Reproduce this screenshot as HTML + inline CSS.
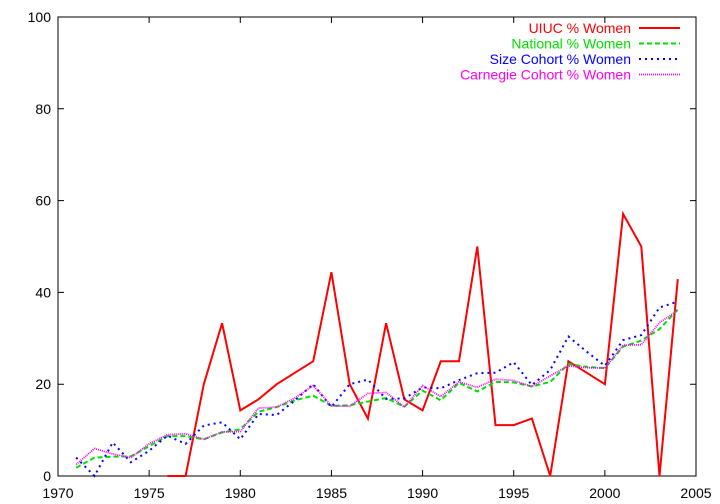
<!DOCTYPE html>
<html><head><meta charset="utf-8"><style>
body{margin:0;background:#fff}
svg{display:block;font-family:"Liberation Sans",sans-serif;font-size:14px}
</style></head><body>
<svg id="chart" width="720" height="504" xmlns="http://www.w3.org/2000/svg"></svg>
<script>
const years=[1971,1972,1973,1974,1975,1976,1977,1978,1979,1980,1981,1982,1983,1984,1985,1986,1987,1988,1989,1990,1991,1992,1993,1994,1995,1996,1997,1998,1999,2000,2001,2002,2003,2004];
const uiucYears=[1976,1977,1978,1979,1980,1981,1982,1983,1984,1985,1986,1987,1988,1989,1990,1991,1992,1993,1994,1995,1996,1997,1998,1999,2000,2001,2002,2003,2004];
const uiuc=[0,0,20,33.3,14.3,16.7,20,22.5,25,44.4,20,12.5,33.3,16.7,14.3,25,25,50,11.1,11.1,12.5,0,25,22.5,20,57.1,50,0,42.9];
const national=[1.8,4,4.2,4.3,6.5,8.7,8.7,8,9.5,10.2,14,15,16.5,17.5,15.3,15.4,16.2,17,15.1,18.6,16.5,20.3,18.4,20.5,20.4,19.5,20.5,24.4,23.8,23.5,28.2,29.5,32,36.3];
const sizeCohort=[4,0,7.3,3,5.5,8.8,7,11,11.7,8,13.5,13.3,16.5,20,15,20,21,16.8,16.9,19.3,19.1,20.9,22.4,22.5,24.8,19.8,23.1,30.4,27.1,24,29.6,30.7,36.7,38];
const carnegie=[2.5,6,4.8,4,7,9,9.2,8,9.6,9.7,14.8,15,17,19.7,15.3,15.2,18,18.2,15,19.7,17.3,20.5,19.3,21.1,20.8,19.5,21.8,24,23.6,23.5,28.5,28.6,33.4,36.1];
const xTicks=[1970,1975,1980,1985,1990,1995,2000,2005];
const yTicks=[0,20,40,60,80,100];
const legendLabels=["UIUC % Women","National % Women","Size Cohort % Women","Carnegie Cohort % Women"];

const L=58,R=696,T=17,B=476;
const xs=v=>L+(v-1970)/(2005-1970)*(R-L);
const ys=v=>B-v/100*(B-T);
const svg=document.getElementById('chart');
const NS="http://www.w3.org/2000/svg";
function mk(tag,attrs,parent){const e=document.createElementNS(NS,tag);for(const k in attrs)e.setAttribute(k,attrs[k]);(parent||svg).appendChild(e);return e;}

const frame=mk('rect',{x:L,y:T,width:R-L,height:B-T,fill:'none',stroke:'#000','stroke-width':1});


xTicks.forEach(t=>{
  const x=xs(t);
  const tk=mk('path',{d:`M${x},${B}v-6M${x},${T}v6`,stroke:'#000'});
  
  
  const lb=mk('text',{x:x,y:B+22,'text-anchor':'middle'});lb.textContent=t;
  
  
});
yTicks.forEach(t=>{
  const y=ys(t);
  const tk=mk('path',{d:`M${L},${y}h6M${R},${y}h-6`,stroke:'#000'});
  
  
  const lb=mk('text',{x:L-7,y:y+5,'text-anchor':'end'});lb.textContent=t;
  
  
});
const series=[
 {xv:uiucYears,yv:uiuc,color:'#ff0000',dash:'',name:'uiuc-line',w:2},
 {xv:years,yv:national,color:'#00e000',dash:'5,3',name:'national-line',w:2},
 {xv:years,yv:sizeCohort,color:'#0000ff',dash:'2,4',name:'size-cohort-line',w:2},
 {xv:years,yv:carnegie,color:'#ff00ff',dash:'1,1',name:'carnegie-cohort-line',w:1.8}
];
series.forEach((s,i)=>{
  const pts=s.xv.map((x,j)=>xs(x).toFixed(1)+','+ys(s.yv[j]).toFixed(1)).join(' ');
  const p=mk('polyline',{points:pts,fill:'none',stroke:s.color,'stroke-width':s.w,'stroke-dasharray':s.dash});
  
  
  const ly=28+i*15.5;
  const lt=mk('text',{x:631,y:ly+5,'text-anchor':'end',fill:s.color});lt.textContent=legendLabels[i];
  
  
  const ls=mk('line',{x1:639,x2:680,y1:ly,y2:ly,stroke:s.color,'stroke-width':s.w,'stroke-dasharray':s.dash});
  
  
});
</script>
</body></html>
